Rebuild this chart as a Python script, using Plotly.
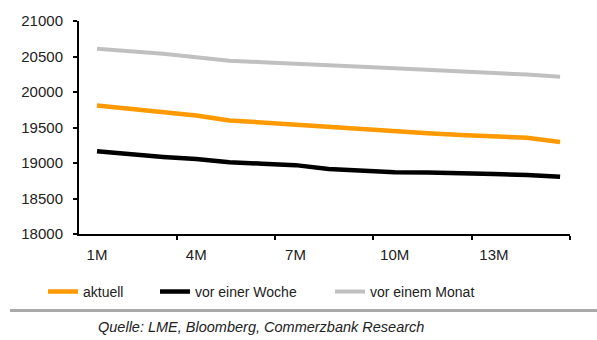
import plotly.graph_objects as go

months = list(range(1, 16))
tick_vals = [1, 4, 7, 10, 13]
tick_text = ["1M", "4M", "7M", "10M", "13M"]

aktuell = [19810, 19760, 19715, 19670, 19600, 19570, 19540, 19505, 19465, 19440,
           19420, 19395, 19375, 19355, 19295]
vor_woche = [19165, 19120, 19085, 19055, 19010, 18990, 18970, 18915, 18890, 18870,
             18865, 18860, 18845, 18830, 18805]
vor_monat = [20610, 20575, 20540, 20490, 20440, 20420, 20395, 20380, 20355, 20335,
             20315, 20290, 20270, 20245, 20215]

names = ["aktuell", "vor einer Woche", "vor einem Monat"]
colors = ["#FF9900", "#000000", "#C0C0C0"]
series = [aktuell, vor_woche, vor_monat]
widths = [4.5, 4.5, 4]
legends = ["legend", "legend2", "legend3"]

fig = go.Figure()
for n, c, s, w, lg in zip(names, colors, series, widths, legends):
    fig.add_trace(go.Scatter(x=months, y=s, mode="lines", name=n, showlegend=True,
                             line=dict(color=c, width=w), legend=lg))

W, H = 597, 340
L, R, T, B = 79, 27, 17, 106
pw, ph = W - L - R, H - T - B

def px_x(p):
    return (p - L) / pw

def px_y(p):
    return (H - B - p) / ph

FAM = "Liberation Sans, Arial, sans-serif"
legfont = dict(family=FAM, size=14, color="#222")
leg_common = dict(orientation="h", yanchor="middle", xanchor="left",
                  font=legfont, bgcolor="rgba(0,0,0,0)", borderwidth=0)

fig.update_layout(
    width=W, height=H,
    showlegend=True,
    margin=dict(l=L, r=R, t=T, b=B),
    paper_bgcolor="white", plot_bgcolor="white",
    font=dict(family=FAM, size=15, color="#222"),
    xaxis=dict(range=[0.456, 15.30], tickmode="array", tickvals=tick_vals,
               ticktext=tick_text, ticks="", showgrid=False, zeroline=False,
               showline=True, linecolor="#000", linewidth=2,
               ticklabelstandoff=6,
               minor=dict(tickmode="array", tickvals=[3.42, 6.38, 9.34, 12.33, 15.3],
                          ticks="outside", ticklen=4, tickwidth=2, tickcolor="#000",
                          showgrid=False),
               tickfont=dict(size=15)),
    yaxis=dict(range=[18000, 21000], dtick=500, tick0=18000, ticks="outside",
               tickformat="d",
               ticklen=4, tickwidth=2, tickcolor="#000", showgrid=False,
               zeroline=False, showline=True, linecolor="#000", linewidth=2,
               ticklabelstandoff=7, tickfont=dict(size=15)),
    legend=dict(x=px_x(43), y=px_y(293), **leg_common),
    legend2=dict(x=px_x(155), y=px_y(293), **leg_common),
    legend3=dict(x=px_x(330), y=px_y(293), **leg_common),
    shapes=[dict(type="line", xref="paper", yref="paper",
                 x0=px_x(10), x1=px_x(597), y0=px_y(312), y1=px_y(312),
                 line=dict(color="#AAAAAA", width=3))],
    annotations=[dict(text="<i>Quelle: LME, Bloomberg, Commerzbank Research</i>",
                      xref="paper", yref="paper", x=px_x(261), y=px_y(329),
                      xanchor="center", yanchor="middle", showarrow=False,
                      font=dict(size=14.5, color="#222", family=FAM))],
)

fig.write_html("out.html")
